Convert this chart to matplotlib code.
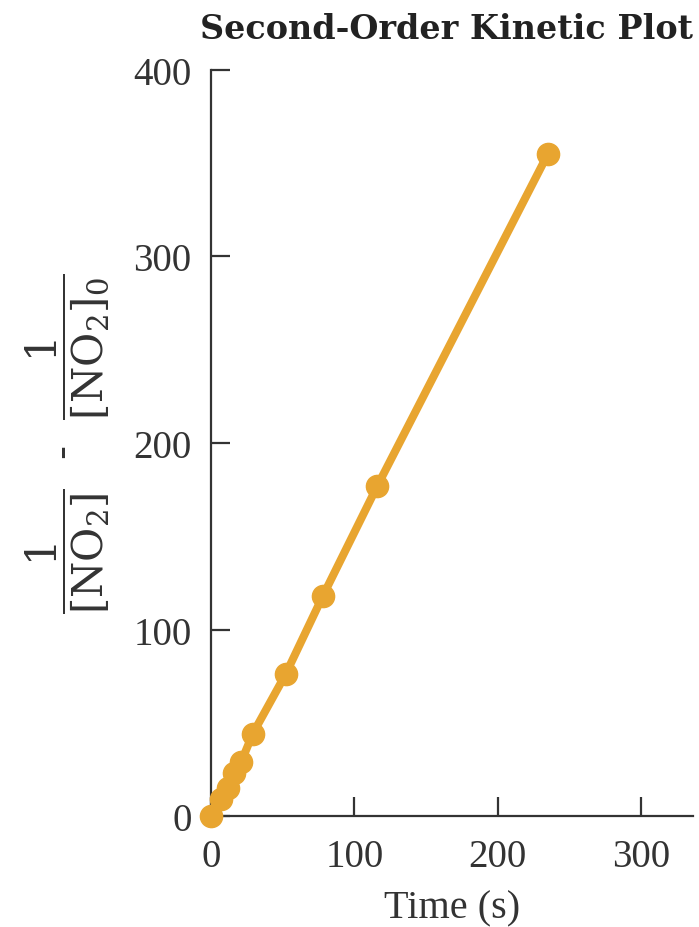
import matplotlib.pyplot as plt

plt.rc('font', family='Liberation Serif', size=28)
plt.rc('mathtext', fontset='dejavuserif')

# 1/[NO2] - 1/[NO2]0 against time
time_s = [0, 7, 12, 16, 21, 29, 52, 78, 116, 235]
inv_conc = [0, 9, 15, 23, 29, 44, 76, 118, 177, 355]

orange = '#E8A530'
axcol = '#333333'

fig = plt.figure(figsize=(6.99, 9.28), dpi=100)
ax = fig.add_axes([0.302, 0.1196, 0.689, 0.8039])

ax.plot(time_s, inv_conc, color=orange, lw=5.8, marker='o', ms=16,
        solid_capstyle='round', clip_on=False, zorder=3)

ax.set_xlim(0, 336)
ax.set_ylim(0, 400)
ax.set_xticks([0, 100, 200, 300])
ax.set_yticks([0, 100, 200, 300, 400])

for s in ['top', 'right']:
    ax.spines[s].set_visible(False)
for s in ['left', 'bottom']:
    ax.spines[s].set_color(axcol)
    ax.spines[s].set_linewidth(1.6)

ax.tick_params(direction='in', length=14, width=1.6, color=axcol,
               labelcolor='#333333', labelsize=28)
ax.tick_params(axis='y', pad=14)
ax.tick_params(axis='x', pad=16)

ax.set_xlabel('Time (s)', color='#333333', fontsize=29, labelpad=10)
ax.set_ylabel(r'$\dfrac{1}{[\mathrm{NO}_2]}\ \ \text{-}\ \ \dfrac{1}{[\mathrm{NO}_2]_0}$',
              color='#333333', fontsize=30, labelpad=16)

fig.text(0.992, 0.958, 'Second-Order Kinetic Plot', ha='right', va='baseline',
         fontsize=24, fontweight='bold', family='DejaVu Serif', color='#222222')

fig.savefig('out.png', dpi=100)
